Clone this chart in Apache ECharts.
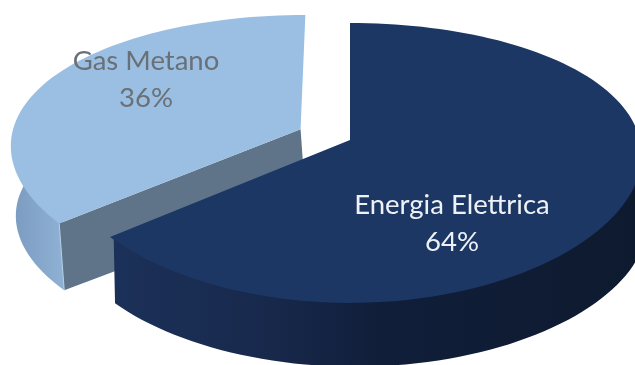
<!DOCTYPE html>
<html>
<head>
<meta charset="utf-8">
<style>html,body{margin:0;padding:0;background:#fff}#c{width:635px;height:365px}</style>
<script src="https://cdn.jsdelivr.net/npm/echarts@6/dist/echarts.min.js"></script>
</head>
<body>
<div id="c"></div>
<script>
// Energy mix, in percent, clockwise from twelve o'clock.
const categories = ['Energia Elettrica', 'Gas Metano'];
const shares = [64, 36];
const explosion = [0, 0.19];

const topColors = ['#1c3764', '#9abfe3'];
const rimStops = [
  [[0, '#1c3159'], [0.3, '#17284b'], [0.5, '#111e3a'], [1, '#0d1a2e']],
  [[0, '#8fb1d4'], [1, '#7c9dc1']]
];
const cutColors = ['#16274a', '#5f7489'];
const labelColors = ['#eef2f7', '#6a7076'];
const labelAnchors = [[452, 224], [146, 80]];

const TOP = { ax: 350, ay: 140, w: 290, h: 136.2 };
const BOTTOM = { ax: 355, ay: 210, w: 290, h: 131 };
const KX = 0.108, KY = 0.164;

// Perspective projection of a point on the pie's plane.
function project(plane, u, v) {
  return [plane.ax + plane.w * u / (1 - KX * v), plane.ay + plane.h * v / (1 - KY * v)];
}
function rimPoint(plane, deg, off) {
  const r = deg * Math.PI / 180;
  return project(plane, Math.sin(r) + off[0], -Math.cos(r) + off[1]);
}
function arc(plane, from, to, off) {
  const pts = [];
  const n = Math.max(2, Math.ceil(Math.abs(to - from) / 2));
  for (let i = 0; i <= n; i++) pts.push(rimPoint(plane, from + (to - from) * i / n, off));
  return pts;
}

const total = shares.reduce((a, b) => a + b, 0);

function renderSlice(params, api) {
  const i = params.dataIndex;
  const value = api.value(1);
  let start = 0;
  for (let k = 0; k < i; k++) start += shares[k] / total * 360;
  const end = start + value / total * 360;
  const mid = (start + end) / 2 * Math.PI / 180;
  const off = [Math.sin(mid) * explosion[i], -Math.cos(mid) * explosion[i]];
  const apexTop = project(TOP, off[0], off[1]);
  const apexBottom = project(BOTTOM, off[0], off[1]);
  const z2 = (i === 0 ? 20 : 10);
  const children = [];

  // Outer wall, limited to the part that faces the viewer. Its upper edge is
  // pulled slightly under the top face so no seam shows along the rim.
  const a0 = Math.max(start, 80), a1 = Math.min(end, 280);
  if (a1 > a0) {
    const upper = arc(TOP, a0, a1, off).map(p => [
      p[0] + (apexTop[0] - p[0]) * 0.015,
      p[1] + (apexTop[1] - p[1]) * 0.015
    ]);
    const pts = upper.concat(arc(BOTTOM, a1, a0, off));
    const stops = rimStops[i].map(s => ({ offset: s[0], color: s[1] }));
    children.push({
      type: 'polygon', z2: z2,
      shape: { points: pts },
      style: {
        fill: new echarts.graphic.LinearGradient(i === 0 ? 0 : 1, 0, i === 0 ? 1 : 0, 0, stops)
      }
    });
  }
  // Cut face along the radius turned towards the viewer.
  if (Math.sin(start * Math.PI / 180) < -0.01) {
    const rt = rimPoint(TOP, start, off), rb = rimPoint(BOTTOM, start, off);
    children.push({
      type: 'polygon', z2: z2 + 1,
      shape: { points: [apexTop, rt, rb, apexBottom] },
      style: { fill: cutColors[i] }
    });
    children.push({
      type: 'line', z2: z2 + 2,
      shape: { x1: rt[0], y1: rt[1], x2: rb[0], y2: rb[1] },
      style: { stroke: '#b5d0ea', lineWidth: 1 }
    });
  }
  // Top face.
  children.push({
    type: 'polygon', z2: z2 + 3,
    shape: { points: [apexTop].concat(arc(TOP, start, end, off)) },
    style: { fill: topColors[i] }
  });
  // Name and percentage.
  children.push({
    type: 'text', z2: 40,
    style: {
      text: categories[i] + '\n' + value + '%',
      x: labelAnchors[i][0], y: labelAnchors[i][1],
      textAlign: 'center', textVerticalAlign: 'middle',
      fill: labelColors[i], font: '27.5px Lato', lineHeight: 37
    }
  });
  return { type: 'group', children: children };
}

const chart = echarts.init(document.getElementById('c'), null, { renderer: 'canvas' });
chart.setOption({
  animation: false,
  backgroundColor: '#ffffff',
  series: [{
    type: 'custom',
    coordinateSystem: 'none',
    silent: true,
    renderItem: renderSlice,
    data: shares.map((s, i) => [i, s])
  }]
});
</script>
</body>
</html>
